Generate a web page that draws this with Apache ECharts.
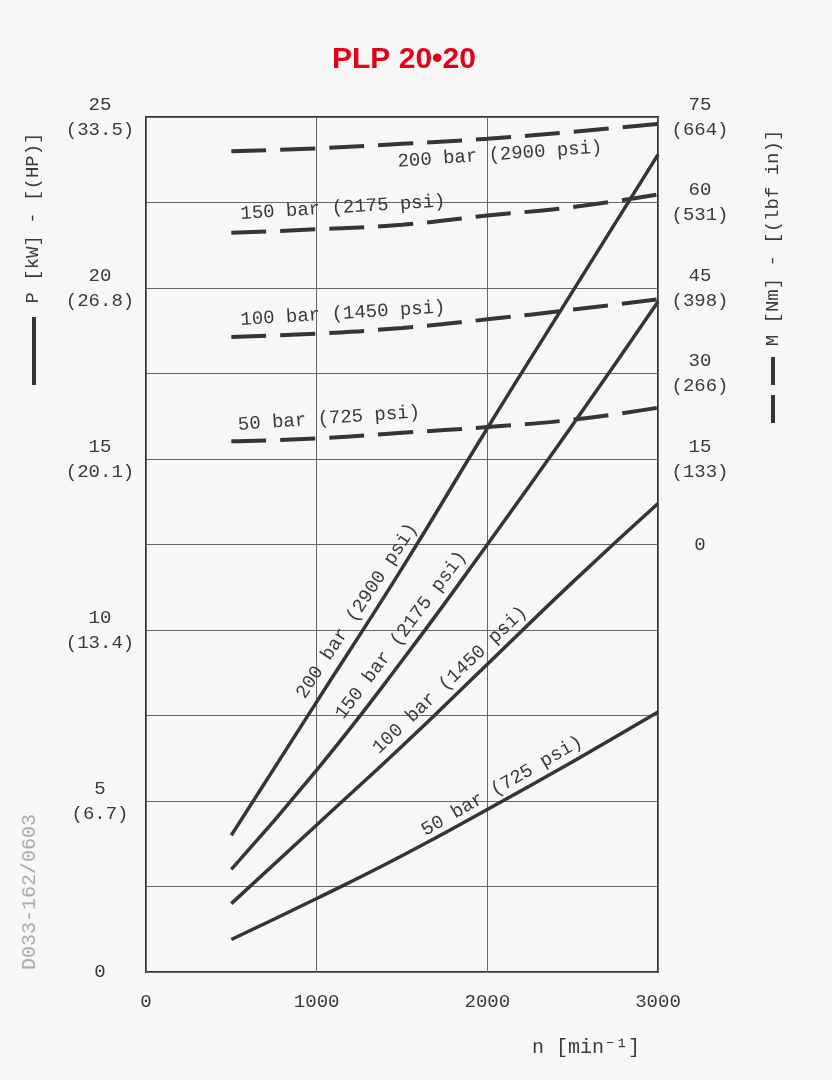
<!DOCTYPE html>
<html lang="en">
  <head>
    <meta charset="UTF-8" />
    <title>PLP 20•20</title>
    <style>
      html, body { margin: 0; padding: 0; background: #f7f7f7; }
      #chart { width: 832px; height: 1080px; }
    </style>
  </head>
  <body>
    <div id="chart"></div>
  </body>
  <script src="https://cdn.jsdelivr.net/npm/echarts@6/dist/echarts.min.js"></script>
  <script>
    // speed n [min-1]
    var speed = [500, 1000, 1500, 2000, 2500, 3000];

    // power P [kW] (solid lines)
    var pow200 = [4.0, 7.9, 11.8, 15.9, 19.9, 23.9];
    var pow150 = [3.0, 5.9, 9.1, 12.5, 16.0, 19.6];
    var pow100 = [2.0, 4.3, 6.6, 9.0, 11.4, 13.7];
    var pow50 = [0.95, 2.15, 3.4, 4.75, 6.15, 7.6];

    // torque M [Nm] (dashed lines)
    var torque200 = [69.0, 69.5, 70.3, 71.2, 72.4, 73.8];
    var torque150 = [54.7, 55.3, 56.1, 57.7, 59.2, 61.4];
    var torque100 = [36.4, 37.0, 38.0, 39.5, 41.2, 43.0];
    var torque50 = [18.1, 18.6, 19.6, 20.6, 21.9, 24.0];

    // tick labels
    var kwTicks = [0, 5, 10, 15, 20, 25];
    var hpTicks = ['', '(6.7)', '(13.4)', '(20.1)', '(26.8)', '(33.5)'];
    var nmTicks = [0, 15, 30, 45, 60, 75];
    var lbfTicks = ['', '(133)', '(266)', '(398)', '(531)', '(664)'];

    var pressures = ['200 bar (2900 psi)', '150 bar (2175 psi)', '100 bar (1450 psi)', '50 bar (725 psi)'];

    var FONT = '"Liberation Mono", "DejaVu Sans Mono", monospace';
    var INK = '#353535';
    var TXT = '#3a3a3a';

    function pairs(ys) {
      return speed.map(function (n, i) { return [n, ys[i]]; });
    }

    function tickFmt(ticks, sub) {
      return function (v) {
        var i = ticks.indexOf(Math.round(v * 100) / 100);
        if (i < 0) return '';
        return sub[i] ? ticks[i] + '\n' + sub[i] : String(ticks[i]);
      };
    }

    var myChart = echarts.init(document.getElementById('chart'));

    var solid = { color: INK, width: 3.5 };
    var dashed = { color: INK, width: 4, type: [35, 14], cap: 'butt' };

    var option = {
      backgroundColor: '#f7f7f7',
      animation: false,
      grid: {
        left: 146, right: 174, top: 117, bottom: 108,
        show: true, borderColor: '#333', borderWidth: 2
      },
      xAxis: {
        type: 'value', min: 0, max: 3000, interval: 1000,
        axisLine: { show: false }, axisTick: { show: false },
        splitLine: { lineStyle: { color: '#666', width: 1 } },
        axisLabel: {
          color: TXT, fontFamily: FONT, fontSize: 19, margin: 20,
          formatter: function (v) { return String(v); }
        }
      },
      yAxis: [
        {
          type: 'value', min: 0, max: 25, interval: 2.5,
          axisLine: { show: false }, axisTick: { show: false },
          splitLine: { lineStyle: { color: '#666', width: 1 } },
          axisLabel: {
            color: TXT, fontFamily: FONT, fontSize: 19, lineHeight: 25,
            align: 'center', margin: 46, formatter: tickFmt(kwTicks, hpTicks)
          }
        },
        {
          type: 'value', min: -75, max: 75, interval: 15, position: 'right',
          axisLine: { show: false }, axisTick: { show: false }, splitLine: { show: false },
          axisLabel: {
            color: TXT, fontFamily: FONT, fontSize: 19, lineHeight: 25,
            align: 'center', margin: 42, formatter: tickFmt(nmTicks, lbfTicks)
          }
        }
      ],
      series: [
        { name: 'P 200', type: 'line', smooth: true, symbol: 'none', lineStyle: solid, data: pairs(pow200) },
        { name: 'P 150', type: 'line', smooth: true, symbol: 'none', lineStyle: solid, data: pairs(pow150) },
        { name: 'P 100', type: 'line', smooth: true, symbol: 'none', lineStyle: solid, data: pairs(pow100) },
        { name: 'P 50', type: 'line', smooth: true, symbol: 'none', lineStyle: solid, data: pairs(pow50) },
        { name: 'M 200', type: 'line', yAxisIndex: 1, smooth: true, symbol: 'none', lineStyle: dashed, data: pairs(torque200) },
        { name: 'M 150', type: 'line', yAxisIndex: 1, smooth: true, symbol: 'none', lineStyle: dashed, data: pairs(torque150) },
        { name: 'M 100', type: 'line', yAxisIndex: 1, smooth: true, symbol: 'none', lineStyle: dashed, data: pairs(torque100) },
        { name: 'M 50', type: 'line', yAxisIndex: 1, smooth: true, symbol: 'none', lineStyle: dashed, data: pairs(torque50) }
      ]
    };

    myChart.setOption(option);

    // curve labels: [seriesIndex, n, value, angle in degrees]
    var curveLabels = [
      [0, 1236, 10.56, 56.7],
      [1, 1494, 9.85, 53],
      [2, 1781, 8.54, 43.6],
      [3, 2086, 5.44, 30],
      [4, 2074, 68.4, 4],
      [5, 1154, 59.1, 3.5],
      [6, 1154, 40.5, 3.5],
      [7, 1072, 22.1, 4]
    ];

    var graphics = curveLabels.map(function (c) {
      var p = myChart.convertToPixel({ seriesIndex: c[0] }, [c[1], c[2]]);
      return {
        type: 'text', x: p[0], y: p[1], rotation: c[3] * Math.PI / 180,
        style: {
          text: pressures[c[0] % 4], fill: TXT, font: '19px ' + FONT,
          align: 'center', verticalAlign: 'middle'
        }
      };
    });

    graphics.push(
      { type: 'text', x: 404, y: 60, style: { text: 'PLP 20•20', fill: '#e2001a', font: 'bold 30px "Liberation Sans Narrow", "Liberation Sans", sans-serif', align: 'center', verticalAlign: 'middle' } },
      { type: 'text', x: 33, y: 218, rotation: Math.PI / 2, style: { text: 'P [kW] - [(HP)]', fill: TXT, font: '19px ' + FONT, align: 'center', verticalAlign: 'middle' } },
      { type: 'line', shape: { x1: 34, y1: 317, x2: 34, y2: 385 }, style: { stroke: INK, lineWidth: 4 } },
      { type: 'text', x: 773, y: 238, rotation: Math.PI / 2, style: { text: 'M [Nm] - [(lbf in)]', fill: TXT, font: '19px ' + FONT, align: 'center', verticalAlign: 'middle' } },
      { type: 'line', shape: { x1: 773, y1: 357, x2: 773, y2: 385 }, style: { stroke: INK, lineWidth: 4 } },
      { type: 'line', shape: { x1: 773, y1: 395, x2: 773, y2: 423 }, style: { stroke: INK, lineWidth: 4 } },
      { type: 'text', x: 640, y: 1048, style: { text: 'n [min\u207B\u00B9]', fill: TXT, font: '20px ' + FONT, align: 'right', verticalAlign: 'middle' } },
      { type: 'text', x: 30, y: 892, rotation: Math.PI / 2, style: { text: 'D033-162/0603', fill: '#aaa', font: '20px ' + FONT, align: 'center', verticalAlign: 'middle' } }
    );

    myChart.setOption({ graphic: graphics });
  </script>
</html>
